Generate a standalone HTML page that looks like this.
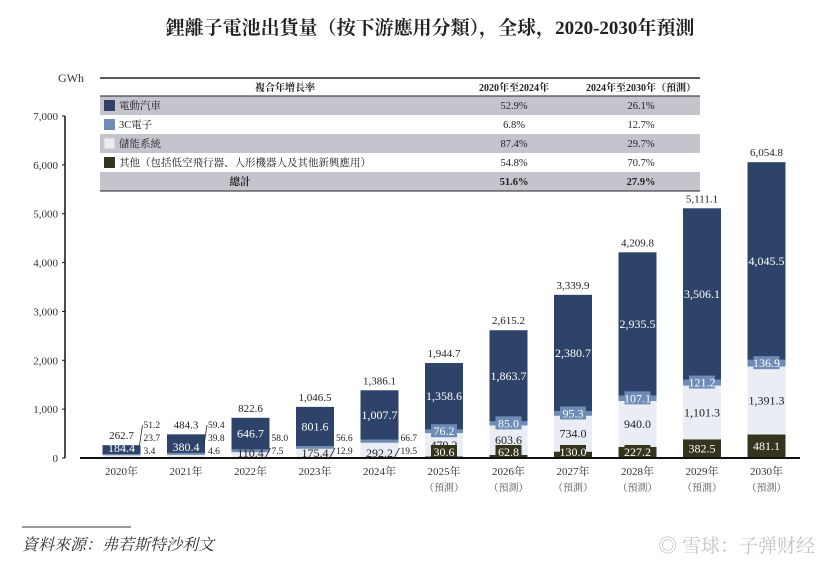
<!DOCTYPE html>
<html><head><meta charset="utf-8">
<style>
body{margin:0;background:#fff;}
svg text{font-family:"Liberation Serif","Noto Serif CJK SC",serif;}
</style></head>
<body>
<svg id="c" width="823" height="557" viewBox="0 0 823 557" xmlns="http://www.w3.org/2000/svg">
<text x="430" y="34" text-anchor="middle" font-size="19" font-weight="bold" fill="#222">鋰離子電池出貨量（按下游應用分類），全球，2020-2030年預測</text>
<text x="58" y="82" font-size="12" fill="#333">GWh</text>
<g id="axis"></g>
<g id="bars"></g>
<g id="table"></g>
<line x1="22" y1="527" x2="131" y2="527" stroke="#333" stroke-width="1"/>
<text x="22" y="550" font-size="16" font-style="italic" fill="#333">資料來源：弗若斯特沙利文</text>
<text x="815" y="552" text-anchor="end" font-size="19" fill="#c4c4c4" font-family="Liberation Sans, Noto Sans CJK SC, sans-serif">◎ 雪球：子弹财经</text>
</svg>
<script>
const years=["2020年","2021年","2022年","2023年","2024年","2025年","2026年","2027年","2028年","2029年","2030年"];
const ev=[184.4,380.4,646.7,801.6,1007.7,1358.6,1863.7,2380.7,2935.5,3506.1,4045.5];
const c3=[23.7,39.8,58.0,56.6,66.7,76.2,85.0,95.3,107.1,121.2,136.9];
const ess=[51.2,59.4,110.4,175.4,292.2,479.2,603.6,734.0,940.0,1101.3,1391.3];
const other=[3.4,4.6,7.5,12.9,19.5,30.6,62.8,130.0,227.2,382.5,481.1];
const totals=["262.7","484.3","822.6","1,046.5","1,386.1","1,944.7","2,615.2","3,339.9","4,209.8","5,111.1","6,054.8"];
const yTicks=[0,1000,2000,3000,4000,5000,6000,7000];
const tableRows=["電動汽車","3C電子","儲能系統","其他（包括低空飛行器、人形機器人及其他新興應用）","總計"];
const cagr1=["52.9%","6.8%","87.4%","54.8%","51.6%"];
const cagr2=["26.1%","12.7%","29.7%","70.7%","27.9%"];
const NS="http://www.w3.org/2000/svg";
const y0=458,yTop=116,maxV=7000;
const y=v=>y0-(v/maxV)*(y0-yTop);
const x=i=>121.5+i*64.5;
const bw=38;
const col={ev:"#2d4369",c3:"#6e8cb6",ess:"#e9edf4",ot:"#35351f"};
function el(t,a,p){const e=document.createElementNS(NS,t);for(const k in a)e.setAttribute(k,a[k]);p.appendChild(e);return e;}
function fmt(v){return v.toLocaleString("en-US",{minimumFractionDigits:1,maximumFractionDigits:1});}
const ax=document.getElementById("axis");
const l=el("line",{x1:65,y1:yTop,x2:65,y2:y0,stroke:"#111","stroke-width":1.5},ax);


yTicks.forEach(t=>{
 const tk=el("line",{x1:62,y1:y(t),x2:65,y2:y(t),stroke:"#111"},ax);
 
 
 const tx=el("text",{x:58,y:y(t)+4,"text-anchor":"end","font-size":11,fill:"#333"},ax);
 tx.textContent=t.toLocaleString("en-US");
 
 
});
const bg=document.getElementById("bars");
years.forEach((yr,i)=>{
 const cx=x(i),x0=cx-bw/2;
 const segs=[["ot",other[i]],["ess",ess[i]],["c3",c3[i]],["ev",ev[i]]];
 let acc=0;const mids={};
 segs.forEach(([k,v])=>{
  const r=el("rect",{x:x0,y:y(acc+v),width:bw,height:y(acc)-y(acc+v),fill:col[k]},bg);
  
  
  mids[k]=[y(acc+v),y(acc)];acc+=v;
 });
 const lab=(tx,xx,yy,fill,size,anchor)=>{const t=el("text",{x:xx,y:yy,"text-anchor":anchor||"middle","font-size":size||12,fill:fill},bg);t.textContent=tx;return t;};
 lab(totals[i],cx,y(acc)-6,"#222",11);
 const evm=(mids.ev[0]+mids.ev[1])/2;
 lab(fmt(ev[i]),cx,(i<2?mids.ev[1]-2:evm+4),"#fff",12);
 if(i>=5){
  const m3=(mids.c3[0]+mids.c3[1])/2;
  const b=el("rect",{x:cx-13,y:m3-7,width:26,height:13,fill:col.c3},bg);
  
  
  lab(fmt(c3[i]),cx,m3+4,"#fff",12);
  const me=(mids.ess[0]+mids.ess[1])/2;
  lab(fmt(ess[i]),cx,me+4,"#222",12);
  const mo=(mids.ot[0]+mids.ot[1])/2;
  const ob=el("rect",{x:cx-13,y:Math.min(mo-7,y0-13),width:26,height:13,fill:col.ot},bg);
  
  
  lab(fmt(other[i]),cx,Math.min(mo,y0-6)+4,"#fff",12);
 }else{
  const rx=x0+bw;
  if(i>=2){
   lab(fmt(ess[i]),cx,y0-1,"#222",12);
   lab(fmt(c3[i]),rx+2,y0-17,"#222",9.5,"start");
   lab(fmt(other[i]),rx+2,y0-4,"#222",9.5,"start");
   const ll=el("line",{x1:rx-5,y1:y0+1,x2:rx+1,y2:y0-10,stroke:"#222","stroke-width":0.8},bg);
   
   
  }else{
   lab(fmt(ess[i]),rx+3,y0-30,"#222",9.5,"start");
   lab(fmt(c3[i]),rx+3,y0-17,"#222",9.5,"start");
   lab(fmt(other[i]),rx+3,y0-4,"#222",9.5,"start");
   const ll=el("line",{x1:rx-1,y1:y0-13,x2:rx+2,y2:y0-33,stroke:"#222","stroke-width":0.8},bg);
   
   
  }
 }
 const yl=el("text",{x:cx,y:y0+17,"text-anchor":"middle","font-size":11,fill:"#333"},bg);
 yl.textContent=yr;
 
 
 if(i>=5){
  const pl=el("text",{x:cx,y:y0+33,"text-anchor":"middle","font-size":10,fill:"#555"},bg);
  pl.textContent="（預測）";
  
  
 }
});
const bl=el("line",{x1:80,y1:y0,x2:800,y2:y0,stroke:"#111","stroke-width":2},bg);


const tb=document.getElementById("table");
const tx0=100,tx1=700,rh=19,hy=78;
const hb=el("rect",{x:tx0,y:hy,width:tx1-tx0,height:18,fill:"#fff"},tb);


[["複合年增長率",285],["2020年至2024年",514],["2024年至2030年（預測）",641]].forEach(([t,xx])=>{
 const h=el("text",{x:xx,y:hy+13,"text-anchor":"middle","font-size":10,"font-weight":"bold",fill:"#222"},tb);
 h.textContent=t;
 
 
});
const sw=[col.ev,col.c3,col.ess,col.ot];
tableRows.forEach((r,i)=>{
 const ry=hy+18+i*rh;
 const gray=(i%2===0);
 const rr=el("rect",{x:tx0,y:ry,width:tx1-tx0,height:rh,fill:gray?"#c4c4cc":"#fff"},tb);
 
 
 if(i<4){
  const s=el("rect",{x:104,y:ry+4,width:11,height:11,fill:sw[i],stroke:i==2?"#ccc":"none"},tb);
  
  
 }
 const bold=i===4;
 const t=el("text",{x:i<4?119:240,y:ry+13,"font-size":10.5,"text-anchor":i<4?"start":"middle","font-weight":bold?"bold":"normal",fill:"#222"},tb);
 t.textContent=r;
 
 
 [[cagr1[i],514],[cagr2[i],641]].forEach(([v,xx])=>{
  const c=el("text",{x:xx,y:ry+13,"font-size":10.5,"text-anchor":"middle","font-weight":bold?"bold":"normal",fill:"#222"},tb);
  c.textContent=v;
  
  
 });
});
[[hy,1.5],[hy+18,1],[hy+18+5*rh,1]].forEach(([yy,w])=>{
 const ln=el("line",{x1:tx0,y1:yy,x2:tx1,y2:yy,stroke:"#222","stroke-width":w},tb);
 
 
});
</script>
</body></html>
